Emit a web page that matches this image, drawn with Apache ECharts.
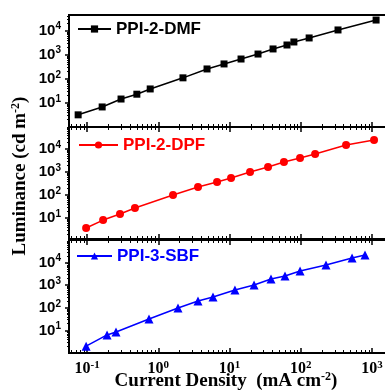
<!DOCTYPE html>
<html>
<head>
<meta charset="utf-8">
<script src="https://cdn.jsdelivr.net/npm/echarts@6/dist/echarts.min.js"></script>
<style>
  html, body { margin: 0; padding: 0; background: #fff; }
  #chart { width: 385px; height: 392px; }
</style>
</head>
<body>
<div id="chart"></div>
<script>
// PPI-2-DMF (black squares)
const xDMF = [0.075, 0.163, 0.30, 0.50, 0.77, 2.22, 4.83, 8.37, 14.5, 25.1, 40.8, 64, 80, 131, 333, 1140];
const yDMF = [3.2, 6.8, 14.5, 23, 38, 110, 257, 415, 665, 1070, 1740, 2540, 3390, 4980, 10700, 27600];
// PPI-2-DPF (red circles)
const xDPF = [0.097, 0.168, 0.29, 0.47, 1.61, 3.61, 6.68, 10.5, 19.4, 34.7, 58, 97.6, 159, 432, 1067];
const yDPF = [3.6, 8.0, 14.7, 27, 98, 220, 365, 540, 985, 1630, 2700, 4000, 6000, 14900, 24400];
// PPI-3-SBF (blue triangles)
const xSBF = [0.097, 0.191, 0.255, 0.74, 1.89, 3.61, 5.86, 11.9, 22.1, 38.2, 60, 97.6, 226, 524, 797];
const ySBF = [2.0, 6.3, 8.5, 32, 98, 200, 300, 610, 1020, 1880, 2560, 4240, 7800, 16000, 21700];

const seriesNames = ["PPI-2-DMF", "PPI-2-DPF", "PPI-3-SBF"];
const seriesColors = ["#000000", "#ff0000", "#0000ff"];
const xTicks = [0.1, 1, 10, 100, 1000];
const yTicks = [10, 100, 1000, 10000];

const SANS = "'Liberation Sans', Arial, sans-serif";
const SERIF = "'Liberation Serif', 'Times New Roman', serif";

// minor ticks at 2..9 of every decade
function minors(fromExp, toExp) {
  const out = [];
  for (let e = fromExp; e <= toExp; e++) {
    for (let m = 2; m <= 9; m++) out.push(m * Math.pow(10, e));
  }
  return out;
}
const xMinor = minors(-2, 3);
const yMinor = minors(0, 4);

const X_MIN = 0.0558, X_MAX = 1622;
const panels = [
  { top: 15, height: 112, ymin: 1, ymax: 44700 },
  { top: 127, height: 112, ymin: 1.2, ymax: 90000 },
  { top: 240, height: 113, ymin: 1, ymax: 100000 },
];

const pow10 = (v) => {
  const e = Math.round(Math.log10(v));
  return "{b|10}{s|" + e + "}";
};

const grids = [], xAxes = [], yAxes = [], series = [], legends = [];
const xData = [xDMF, xDPF, xSBF];
const yData = [yDMF, yDPF, ySBF];
const symbols = ["rect", "circle", "triangle"];
const symSizes = [7, 8, 9];
const legendPos = [
  { left: 77, top: 20, w: 33 },
  { left: 78, top: 136, w: 39 },
  { left: 76, top: 247, w: 35 },
];

function xAxis(g, position, major, labels) {
  return {
    type: "log",
    gridIndex: g,
    position: position,
    min: X_MIN,
    max: X_MAX,
    axisLine: { show: major, lineStyle: { color: "#000", width: 2 } },
    axisTick: {
      show: true,
      inside: true,
      length: major ? 5 : 3,
      customValues: major ? xTicks : xMinor,
      lineStyle: { color: "#000", width: major ? 1.5 : 1 },
    },
    axisLabel: labels
      ? {
          show: true,
          customValues: xTicks,
          margin: 7,
          formatter: pow10,
          rich: {
            b: { fontFamily: SERIF, fontWeight: "bold", fontSize: 16, color: "#000", lineHeight: 18 },
            s: { fontFamily: SERIF, fontWeight: "bold", fontSize: 11, color: "#000", lineHeight: 10, verticalAlign: "top" },
          },
        }
      : { show: false },
    splitLine: { show: false },
  };
}

panels.forEach((p, i) => {
  grids.push({
    left: 69,
    top: p.top,
    width: 318,
    height: p.height,
    show: true,
    borderColor: "#000",
    borderWidth: 2,
    backgroundColor: "transparent",
    outerBoundsMode: "none",
    containLabel: false,
  });

  const xi = xAxes.length;
  xAxes.push(xAxis(i, "bottom", true, i === 2));
  xAxes.push(xAxis(i, "bottom", false, false));
  if (i > 0) {
    xAxes.push(xAxis(i, "top", true, false));
    xAxes.push(xAxis(i, "top", false, false));
  }

  const yi = yAxes.length;
  yAxes.push({
    type: "log",
    gridIndex: i,
    position: "left",
    min: p.ymin,
    max: p.ymax,
    axisLine: { show: true, lineStyle: { color: "#000", width: 2 } },
    axisTick: { show: true, inside: false, length: 4, customValues: yTicks, lineStyle: { color: "#000", width: 1.5 } },
    axisLabel: {
      show: true,
      customValues: yTicks,
      margin: 8,
      formatter: pow10,
      rich: {
        b: { fontFamily: SANS, fontWeight: "bold", fontSize: 15, color: "#000", lineHeight: 18 },
        s: { fontFamily: SANS, fontWeight: "bold", fontSize: 10, color: "#000", lineHeight: 10, verticalAlign: "top" },
      },
    },
    splitLine: { show: false },
  });
  yAxes.push({
    type: "log",
    gridIndex: i,
    position: "left",
    min: p.ymin,
    max: p.ymax,
    axisLine: { show: false },
    axisTick: { show: true, inside: false, length: 2, customValues: yMinor, lineStyle: { color: "#000", width: 1 } },
    axisLabel: { show: false },
    splitLine: { show: false },
  });

  series.push({
    name: seriesNames[i],
    type: "line",
    xAxisIndex: xi,
    yAxisIndex: yi,
    data: xData[i].map((x, k) => [x, yData[i][k]]),
    symbol: symbols[i],
    symbolSize: symSizes[i],
    showAllSymbol: true,
    color: seriesColors[i],
    lineStyle: { color: seriesColors[i], width: 1.5 },
    itemStyle: { color: seriesColors[i] },
  });

  legends.push({
    data: [seriesNames[i]],
    left: legendPos[i].left,
    top: legendPos[i].top,
    itemWidth: legendPos[i].w,
    itemHeight: 9,
    padding: 0,
    textStyle: {
      color: seriesColors[i],
      fontFamily: SANS,
      fontWeight: "bold",
      fontSize: 17,
      lineHeight: 18,
    },
  });
});

const chart = echarts.init(document.getElementById("chart"));
chart.setOption({
  animation: false,
  backgroundColor: "#fff",
  grid: grids,
  xAxis: xAxes,
  yAxis: yAxes,
  legend: legends,
  series: series,
  graphic: [
    {
      type: "text",
      x: 20,
      y: 176,
      rotation: Math.PI / 2,
      style: {
        text: "{a|Luminance (cd m}{s|-2}{a|)}",
        align: "center",
        verticalAlign: "middle",
        textAlign: "center",
        textVerticalAlign: "middle",
        rich: {
          a: { fontFamily: SERIF, fontWeight: "bold", fontSize: 19, fill: "#000", lineHeight: 20 },
          s: { fontFamily: SERIF, fontWeight: "bold", fontSize: 12, fill: "#000", lineHeight: 12, verticalAlign: "top" },
        },
      },
    },
    {
      type: "text",
      x: 226,
      y: 381,
      style: {
        text: "{a|Current Density  (mA cm}{s|-2}{a|)}",
        align: "center",
        verticalAlign: "middle",
        textAlign: "center",
        textVerticalAlign: "middle",
        rich: {
          a: { fontFamily: SERIF, fontWeight: "bold", fontSize: 19, fill: "#000", lineHeight: 20 },
          s: { fontFamily: SERIF, fontWeight: "bold", fontSize: 12, fill: "#000", lineHeight: 12, verticalAlign: "top" },
        },
      },
    },
  ],
});
</script>
</body>
</html>
